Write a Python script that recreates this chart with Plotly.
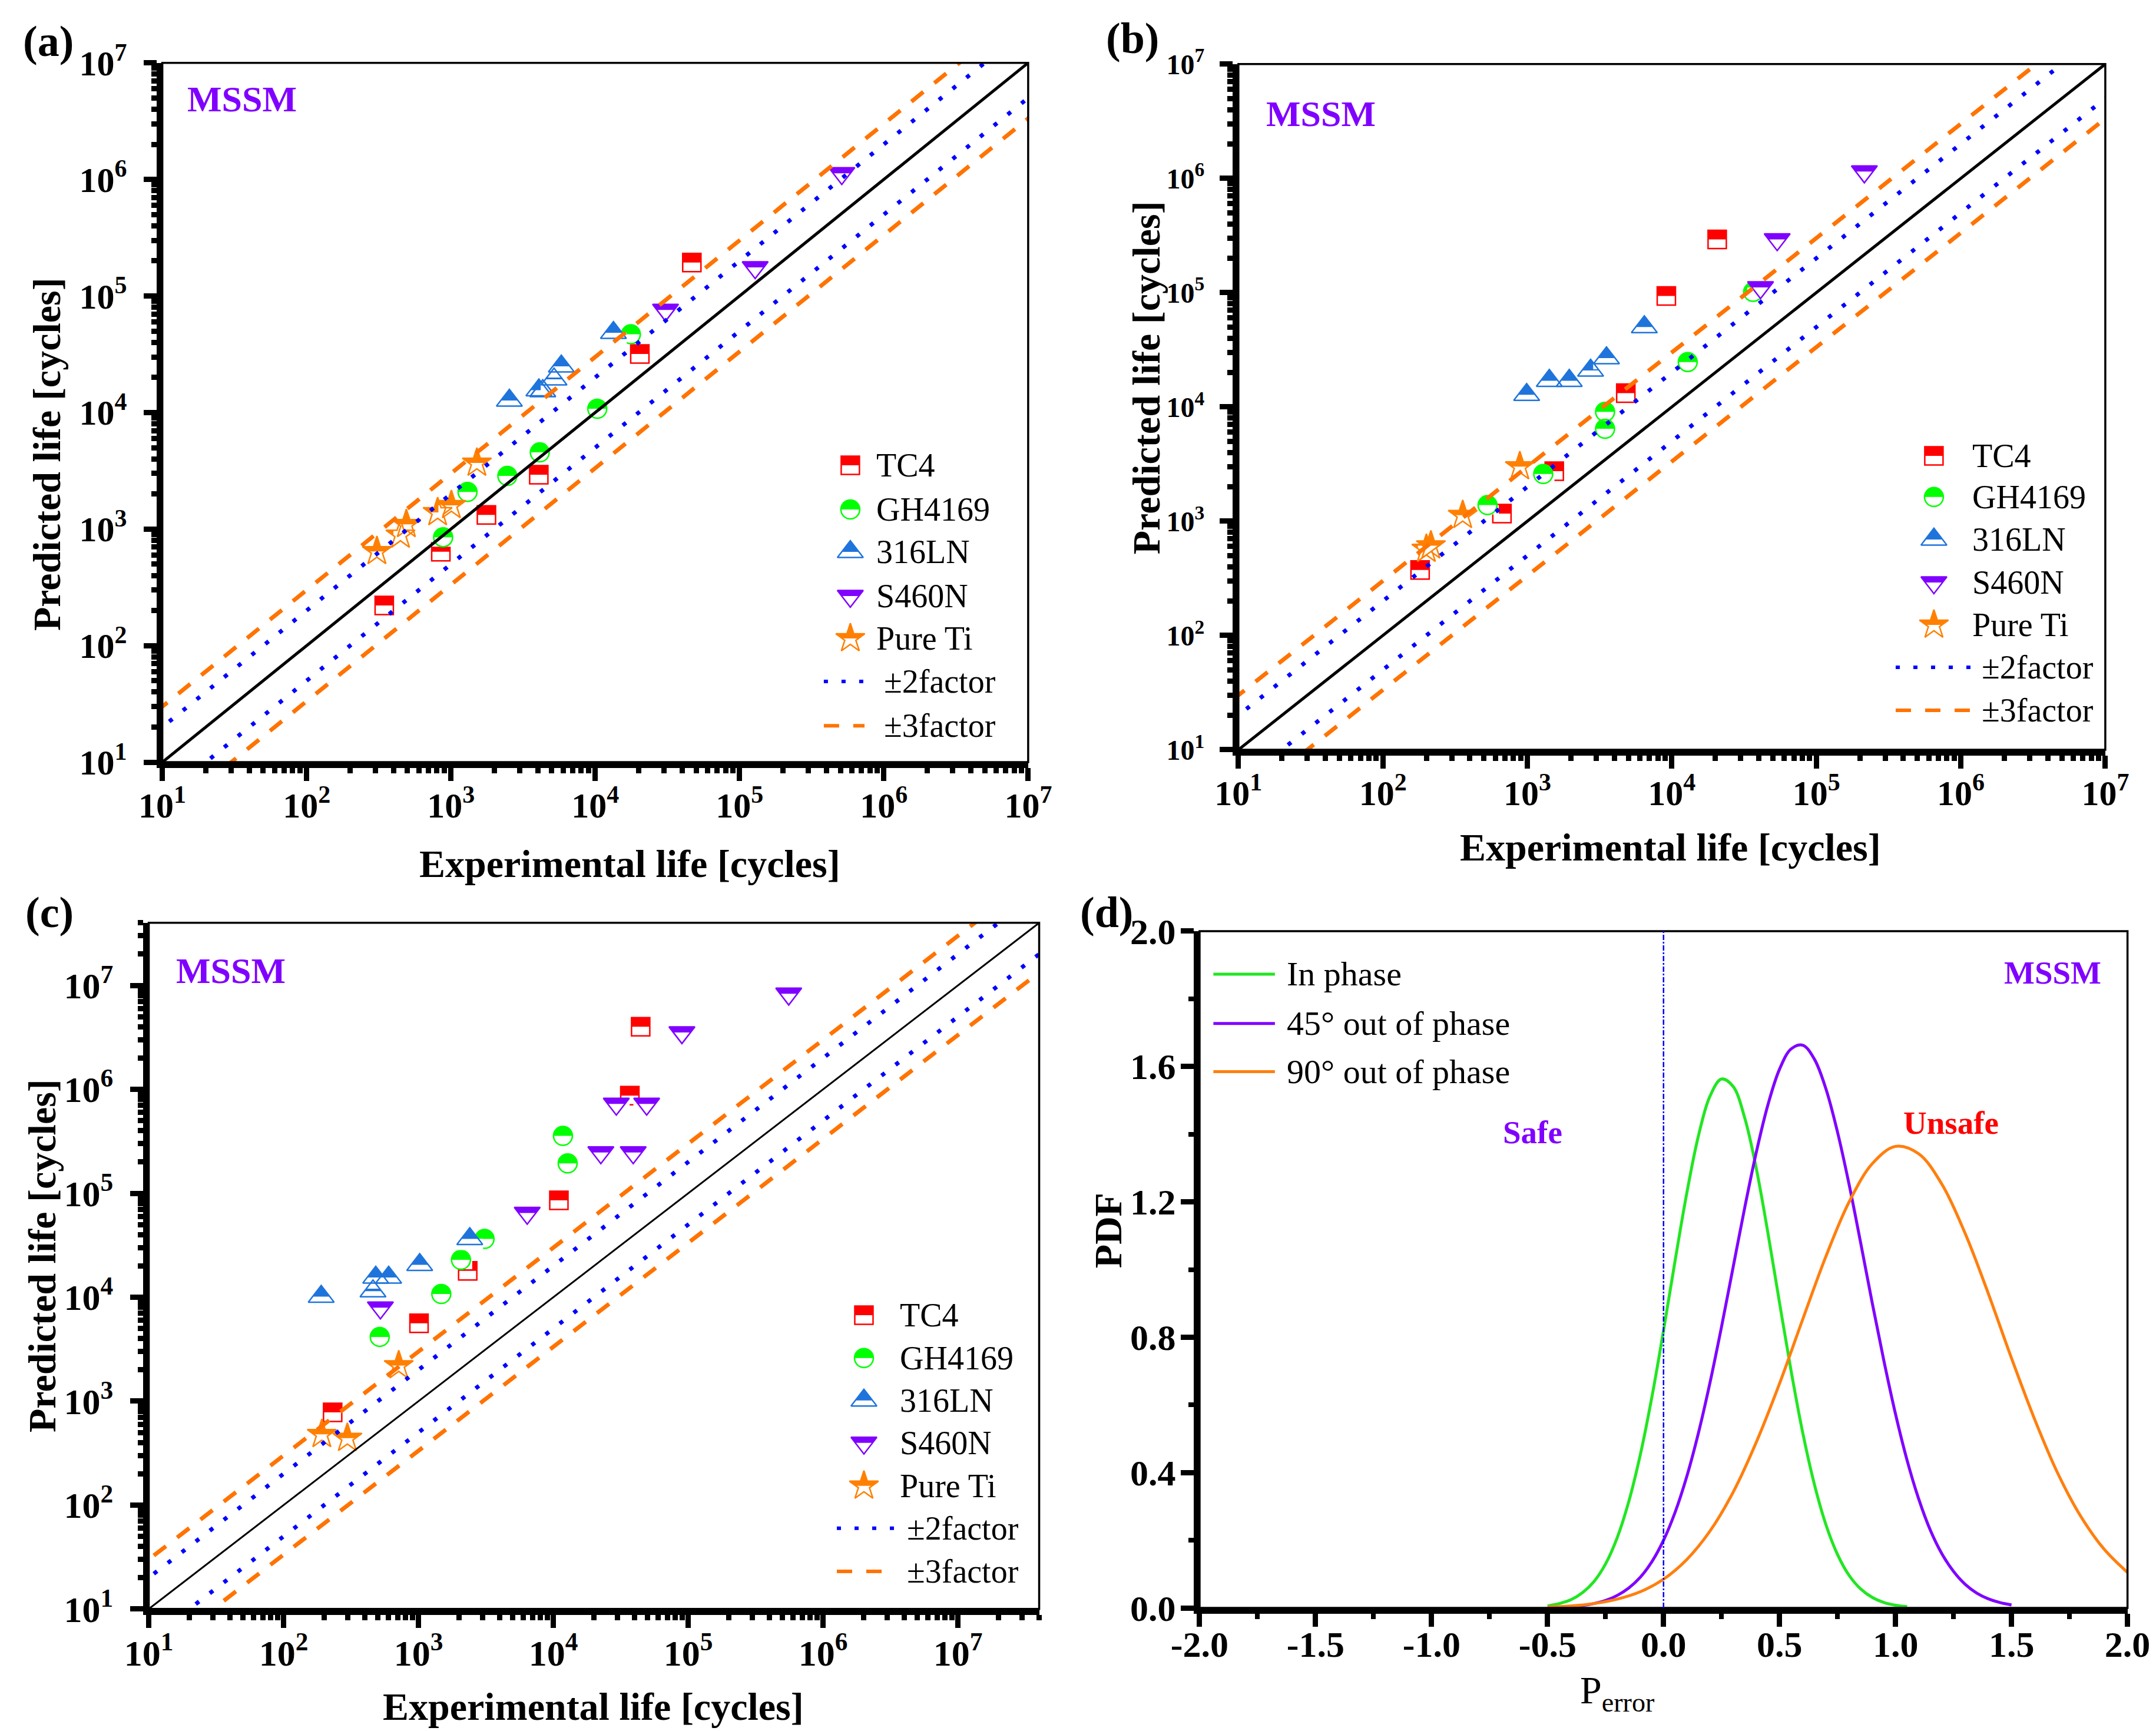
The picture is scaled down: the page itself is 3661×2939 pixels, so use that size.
import plotly.graph_objects as go

FONT = "Liberation Serif"

MATERIALS = ["TC4", "GH4169", "316LN", "S460N", "Pure Ti"]
MAT_COLORS = ["#FF0000", "#00FF00", "#1F74DC", "#8000FF", "#FF8000"]
MAT_SYMBOLS = ["square", "circle", "triangle-up", "triangle-down", "star"]
MAT_SIZES = [31, 32, 38, 38, 37]

FACTORS = [2, 3]
FACTOR_LABELS = ["±2factor", "±3factor"]
FACTOR_COLORS = ["#0000FF", "#FF7300"]
FACTOR_DASH = ["7px,23px", "26px,24px"]
DECADES = [1, 2, 3, 4, 5, 6, 7]

# ---- (a) ----
A_TC4_EXP = [345, 851, 1762, 4063, 20370, 46700]
A_TC4_PRED = [221, 640, 1325, 2924, 31760, 193700]
A_GH_EXP = [883, 1303, 2460, 4127, 10330, 17660]
A_GH_PRED = [851, 2084, 2858, 4550, 10770, 46900]
A_316_EXP = [2541, 4070, 4330, 5180, 5820, 13370]
A_316_PRED = [12680, 15530, 15300, 19280, 24900, 48300]
A_S460_EXP = [30700, 128300, 511000]
A_S460_PRED = [75800, 175800, 1130000]
A_TI_EXP = [307, 447, 491, 809, 1007, 1513]
A_TI_PRED = [644, 891, 1099, 1389, 1597, 3690]

# ---- (b) ----
B_TC4_EXP = [181, 667, 1535, 4800, 9160, 20600]
B_TC4_PRED = [374, 1167, 2742, 13200, 93500, 292000]
B_GH_EXP = [530, 1288, 3450, 3450, 12880, 36500]
B_GH_PRED = [1383, 2590, 6440, 9060, 24700, 101500]
B_316_EXP = [989, 1419, 1950, 2740, 3530, 6450]
B_316_PRED = [12760, 16950, 16950, 20830, 26750, 50000]
B_S460_EXP = [41100, 53600, 215000]
B_S460_PRED = [111000, 292000, 1146000]
B_TI_EXP = [200, 215, 357, 887]
B_TI_PRED = [570, 610, 1127, 3006]

# ---- (c) ----
C_TC4_EXP = [231, 1009, 2317, 10990, 36900, 44400]
C_TC4_PRED = [780, 5620, 17950, 85500, 869000, 4000000]
C_GH_EXP = [516, 1476, 2066, 3090, 11780, 12770]
C_GH_PRED = [4150, 10740, 22900, 36400, 357000, 193800]
C_316_EXP = [190, 460, 482, 601, 1021, 2400]
C_316_PRED = [10120, 11430, 15490, 15490, 20500, 36400]
C_S460_EXP = [522, 6400, 22500, 39100, 29300, 49200, 89800, 556000]
C_S460_PRED = [7930, 64600, 247000, 247000, 725000, 725000, 3530000, 8300000]
C_TI_EXP = [192, 297, 714]
C_TI_PRED = [479, 440, 2200]

# ---- (d) ----
PHASE_LABELS = ["In phase", "45° out of phase", "90° out of phase"]
PHASE_COLORS = ["#22E622", "#8000FF", "#FF7F0E"]
IN_PHASE_X = [-0.50, -0.45, -0.40, -0.35, -0.30, -0.25, -0.20, -0.15, -0.10, -0.05,
              0.00, 0.05, 0.10, 0.15, 0.20, 0.25, 0.30, 0.35, 0.40, 0.45,
              0.50, 0.55, 0.60, 0.65, 0.70, 0.75, 0.80, 0.85, 0.90, 0.95, 1.00, 1.05]
IN_PHASE_PDF = [0.006, 0.013, 0.024, 0.045, 0.078, 0.130, 0.207, 0.314, 0.453, 0.624,
                0.820, 1.027, 1.225, 1.394, 1.512, 1.563, 1.541, 1.448, 1.298, 1.108,
                0.902, 0.700, 0.518, 0.366, 0.246, 0.158, 0.096, 0.056, 0.031, 0.016, 0.008, 0.004]
OOP45_X = [-0.50, -0.45, -0.40, -0.35, -0.30, -0.25, -0.20, -0.15, -0.10, -0.05,
           0.00, 0.05, 0.10, 0.15, 0.20, 0.25, 0.30, 0.35, 0.40, 0.45,
           0.50, 0.55, 0.60, 0.65, 0.70, 0.75, 0.80, 0.85, 0.90, 0.95,
           1.00, 1.05, 1.10, 1.15, 1.20, 1.25, 1.30, 1.35, 1.40, 1.45, 1.50]
OOP45_PDF = [0.001, 0.002, 0.004, 0.007, 0.013, 0.022, 0.037, 0.059, 0.091, 0.137,
             0.200, 0.283, 0.388, 0.516, 0.665, 0.831, 1.007, 1.183, 1.347, 1.487,
             1.592, 1.652, 1.663, 1.622, 1.534, 1.406, 1.251, 1.078, 0.900, 0.730,
             0.573, 0.436, 0.322, 0.230, 0.160, 0.108, 0.070, 0.044, 0.027, 0.016, 0.009]
OOP90_X = [-0.5, -0.4, -0.3, -0.2, -0.1, 0.0, 0.1, 0.2, 0.3, 0.4, 0.5, 0.6, 0.7,
           0.8, 0.9, 1.0, 1.1, 1.2, 1.3, 1.4, 1.5, 1.6, 1.7, 1.8, 1.9, 2.0]
OOP90_PDF = [0.003, 0.006, 0.013, 0.026, 0.048, 0.085, 0.143, 0.227, 0.342, 0.490,
             0.663, 0.853, 1.039, 1.200, 1.313, 1.364, 1.342, 1.252, 1.107, 0.929,
             0.738, 0.557, 0.397, 0.269, 0.173, 0.105]
D_XTICKS = [-2.0, -1.5, -1.0, -0.5, 0.0, 0.5, 1.0, 1.5, 2.0]
D_YTICKS = [0.0, 0.4, 0.8, 1.2, 1.6, 2.0]

PANELS = [
    dict(tag="(a)", xa="x", ya="y", lx="x5", ly="y5",
         dx=[0.0731, 0.4747], dy=[0.5624, 0.9664], hi=7.0, diag_w=5, xfs=60, yfs=60,
         exp=[A_TC4_EXP, A_GH_EXP, A_316_EXP, A_S460_EXP, A_TI_EXP],
         pred=[A_TC4_PRED, A_GH_PRED, A_316_PRED, A_S460_PRED, A_TI_PRED],
         leg=dict(mx=0.7946, tx=0.8232, ltx=0.832, lx=[0.764, 0.811],
                  rows=[0.4246, 0.3614, 0.3008, 0.2376, 0.1769, 0.1154, 0.0522]),
         mssm=(0.0275, 0.948), label_pos=(0.0202, 0.979),
         ytitle=(0.0197, 0.7404), xtitle=(0.290, 0.5036)),
    dict(tag="(b)", xa="x2", ya="y2", lx="x6", ly="y6",
         dx=[0.5722, 0.9743], dy=[0.5696, 0.9657], hi=7.0, diag_w=5, xfs=60, yfs=48,
         exp=[B_TC4_EXP, B_GH_EXP, B_316_EXP, B_S460_EXP, B_TI_EXP],
         pred=[B_TC4_PRED, B_GH_PRED, B_316_PRED, B_S460_PRED, B_TI_PRED],
         leg=dict(mx=0.8023, tx=0.8451, ltx=0.856, lx=[0.7582, 0.8485],
                  rows=[0.4287, 0.3686, 0.3067, 0.2440, 0.1821, 0.1203, 0.0576]),
         mssm=(0.0306, 0.928), label_pos=(0.523, 0.9805),
         ytitle=(0.5294, 0.7846), xtitle=(0.7727, 0.5134)),
    dict(tag="(c)", xa="x3", ya="y3", lx="x7", ly="y7",
         dx=[0.0668, 0.4798], dy=[0.0732, 0.4696], hi=7.602, diag_w=3, xfs=62, yfs=62,
         exp=[C_TC4_EXP, C_GH_EXP, C_316_EXP, C_S460_EXP, C_TI_EXP],
         pred=[C_TC4_PRED, C_GH_PRED, C_316_PRED, C_S460_PRED, C_TI_PRED],
         leg=dict(mx=0.8032, tx=0.8423, ltx=0.850, lx=[0.7728, 0.837],
                  rows=[0.4283, 0.3657, 0.3039, 0.2421, 0.1794, 0.1176, 0.0549]),
         mssm=(0.0294, 0.930), label_pos=(0.0207, 0.4757),
         ytitle=(0.0172, 0.2773), xtitle=(0.2729, 0.0167)),
]

TITLE_FONT = dict(family=FONT, size=66, color="black", weight="bold")
LEG_FONT = dict(family=FONT, size=56, color="black")


def tick_font(size):
    return dict(family=FONT, size=size, color="black", weight="bold")


def half_marker_traces(x, y, color, symbol, size, xa, ya):
    # Origin-style "top half filled" marker: fill, white cover on the lower half, outline
    base = dict(x=x, y=y, mode="markers", xaxis=xa, yaxis=ya,
                hoverinfo="skip", showlegend=False, cliponaxis=False)
    return [
        go.Scatter(**base, marker=dict(symbol=symbol, size=size, color=color,
                                       line=dict(width=0))),
        go.Scatter(**base, marker=dict(symbol="line-ew", size=size * 0.85, angle=0,
                                       standoff=size / 4, color="white",
                                       line=dict(color="white", width=size / 2))),
        go.Scatter(**base, marker=dict(symbol=symbol + "-open", size=size, color=color,
                                       line=dict(width=2.5, color=color))),
    ]


def axis_style(standoff, font_size):
    return dict(
        automargin=False,
        ticks="outside", ticklen=22, tickwidth=9, tickcolor="black",
        showline=True, linewidth=10, linecolor="black", mirror=False,
        showgrid=False, zeroline=False, tickfont=tick_font(font_size),
        ticklabelstandoff=standoff,
    )


def log_axis(domain, hi, anchor, standoff, font_size):
    return dict(
        type="log", domain=domain, range=[1, hi], anchor=anchor,
        tickmode="array", tickvals=[10 ** k for k in DECADES],
        ticktext=[f"10<sup>{k}</sup>" for k in DECADES],
        minor=dict(tickmode="array",
                   tickvals=[m * 10 ** k for k in range(1, 8) for m in range(2, 10)],
                   ticks="outside", ticklen=9, tickwidth=9, tickcolor="black"),
        **axis_style(standoff, font_size),
    )


fig = go.Figure()
layout = dict(annotations=[], shapes=[])

for p in PANELS:
    xa, ya = p["xa"], p["ya"]
    layout["xaxis" + xa[1:]] = log_axis(p["dx"], p["hi"], ya, -10, p["xfs"])
    layout["yaxis" + ya[1:]] = log_axis(p["dy"], p["hi"], xa, 16, p["yfs"])

    # data markers
    for i, mat in enumerate(MATERIALS):
        for tr in half_marker_traces(p["exp"][i], p["pred"][i], MAT_COLORS[i],
                                     MAT_SYMBOLS[i], MAT_SIZES[i], xa, ya):
            fig.add_trace(tr)

    # 1:1 line and factor bands, drawn over the markers
    x_line = [1, 10 ** 9]
    fig.add_trace(go.Scatter(x=x_line, y=x_line, mode="lines", xaxis=xa, yaxis=ya,
                             line=dict(color="black", width=p["diag_w"]),
                             hoverinfo="skip", showlegend=False))
    for f, col, dash in zip(FACTORS, FACTOR_COLORS, FACTOR_DASH):
        for y_line in ([v * f for v in x_line], [v / f for v in x_line]):
            fig.add_trace(go.Scatter(x=x_line, y=y_line, mode="lines", xaxis=xa, yaxis=ya,
                                     line=dict(color=col, width=7, dash=dash),
                                     hoverinfo="skip", showlegend=False))

    # hand-built legend on an overlay axis pair
    lx, ly = p["lx"], p["ly"]
    layout["xaxis" + lx[1:]] = dict(overlaying=xa, range=[0, 1], visible=False,
                                    fixedrange=True, automargin=False)
    layout["yaxis" + ly[1:]] = dict(overlaying=ya, range=[0, 1], visible=False,
                                    fixedrange=True, automargin=False)
    leg = p["leg"]
    for i, mat in enumerate(MATERIALS):
        for tr in half_marker_traces([leg["mx"]], [leg["rows"][i]], MAT_COLORS[i],
                                     MAT_SYMBOLS[i], MAT_SIZES[i], lx, ly):
            fig.add_trace(tr)
        layout["annotations"].append(dict(
            text=mat, xref=f"{xa} domain", yref=f"{ya} domain", x=leg["tx"], y=leg["rows"][i],
            xanchor="left", yanchor="middle", showarrow=False, font=LEG_FONT))
    for j, lab in enumerate(FACTOR_LABELS):
        row = leg["rows"][5 + j]
        layout["shapes"].append(dict(
            type="line", xref=f"{xa} domain", yref=f"{ya} domain",
            x0=leg["lx"][0], x1=leg["lx"][1], y0=row, y1=row,
            line=dict(color=FACTOR_COLORS[j], width=6, dash=FACTOR_DASH[j])))
        layout["annotations"].append(dict(
            text=lab, xref=f"{xa} domain", yref=f"{ya} domain", x=leg["ltx"], y=row,
            xanchor="left", yanchor="middle", showarrow=False, font=LEG_FONT))

    # thin frame on top/right
    layout["shapes"].append(dict(type="rect", xref=f"{xa} domain", yref=f"{ya} domain",
                                 x0=0, x1=1, y0=0, y1=1, line=dict(color="black", width=3.5)))
    layout["annotations"] += [
        dict(text="MSSM", xref=f"{xa} domain", yref=f"{ya} domain",
             x=p["mssm"][0], y=p["mssm"][1], xanchor="left", yanchor="middle",
             showarrow=False, font=dict(family=FONT, size=62, color="#8000FF", weight="bold")),
        dict(text=p["tag"], xref="paper", yref="paper", x=p["label_pos"][0], y=p["label_pos"][1],
             xanchor="center", yanchor="middle", showarrow=False,
             font=dict(family=FONT, size=74, color="black", weight="bold")),
        dict(text="Predicted life [cycles]", xref="paper", yref="paper",
             x=p["ytitle"][0], y=p["ytitle"][1], textangle=-90,
             xanchor="center", yanchor="middle", showarrow=False, font=TITLE_FONT),
        dict(text="Experimental life [cycles]", xref="paper", yref="paper",
             x=p["xtitle"][0], y=p["xtitle"][1],
             xanchor="center", yanchor="middle", showarrow=False, font=TITLE_FONT),
    ]

# ---- (d) PDF panel ----
for xs, ys, col, lab in zip([IN_PHASE_X, OOP45_X, OOP90_X],
                            [IN_PHASE_PDF, OOP45_PDF, OOP90_PDF],
                            PHASE_COLORS, PHASE_LABELS):
    fig.add_trace(go.Scatter(x=xs, y=ys, mode="lines", xaxis="x4", yaxis="y4",
                             line=dict(color=col, width=5, shape="spline"),
                             name=lab, showlegend=False))

layout["xaxis4"] = dict(
    domain=[0.5542, 0.9846], range=[-2, 2], anchor="y4",
    tickmode="array", tickvals=D_XTICKS, ticktext=[f"{v:.1f}" for v in D_XTICKS],
    minor=dict(tickmode="linear", tick0=0, dtick=0.25, ticks="outside",
               ticklen=9, tickwidth=8, tickcolor="black"),
    **axis_style(-24, 62))
layout["yaxis4"] = dict(
    domain=[0.0738, 0.4648], range=[0, 2], anchor="x4",
    tickmode="array", tickvals=D_YTICKS, ticktext=[f"{v:.1f}" for v in D_YTICKS],
    minor=dict(tickmode="linear", tick0=0, dtick=0.2, ticks="outside",
               ticklen=9, tickwidth=8, tickcolor="black"),
    **axis_style(-4, 62))

layout["shapes"] += [
    dict(type="rect", xref="x4 domain", yref="y4 domain", x0=0, x1=1, y0=0, y1=1,
         line=dict(color="black", width=3.5)),
    dict(type="line", xref="x4", yref="y4 domain", x0=0, x1=0, y0=0, y1=1,
         line=dict(color="#0000FF", width=2.5, dash="dashdot")),
]
D_LEG_ROWS = [0.9365, 0.8635, 0.7925]
for row, col, lab in zip(D_LEG_ROWS, PHASE_COLORS, PHASE_LABELS):
    layout["shapes"].append(dict(type="line", xref="x4 domain", yref="y4 domain",
                                 x0=0.0149, x1=0.0812, y0=row, y1=row,
                                 line=dict(color=col, width=5)))
    layout["annotations"].append(dict(text=lab, xref="x4 domain", yref="y4 domain",
                                      x=0.0924, y=row, xanchor="left", yanchor="middle",
                                      showarrow=False, font=dict(family=FONT, size=58, color="black")))

layout["annotations"] += [
    dict(text="MSSM", xref="x4", yref="y4", x=1.678, y=1.878, showarrow=False,
         font=dict(family=FONT, size=55, color="#8000FF", weight="bold")),
    dict(text="Safe", xref="x4", yref="y4", x=-0.565, y=1.405, showarrow=False,
         font=dict(family=FONT, size=55, color="#8000FF", weight="bold")),
    dict(text="Unsafe", xref="x4", yref="y4", x=1.24, y=1.434, showarrow=False,
         font=dict(family=FONT, size=55, color="#FF0000", weight="bold")),
    dict(text="(d)", xref="paper", yref="paper", x=0.511, y=0.4757, showarrow=False,
         font=dict(family=FONT, size=74, color="black", weight="bold")),
    dict(text="PDF", xref="paper", yref="paper", x=0.512, y=0.2695, textangle=-90,
         showarrow=False, font=TITLE_FONT),
    dict(text="P<sub>error</sub>", xref="paper", yref="paper", x=0.7657, y=0.010,
         showarrow=False, font=dict(family=FONT, size=66, color="black")),
]

fig.update_layout(
    width=3661, height=2939,
    margin=dict(l=0, r=0, t=0, b=0, pad=0, autoexpand=False),
    paper_bgcolor="white", plot_bgcolor="white",
    font=dict(family=FONT, color="black"),
    showlegend=False,
    **layout,
)

fig.write_html("out.html")
